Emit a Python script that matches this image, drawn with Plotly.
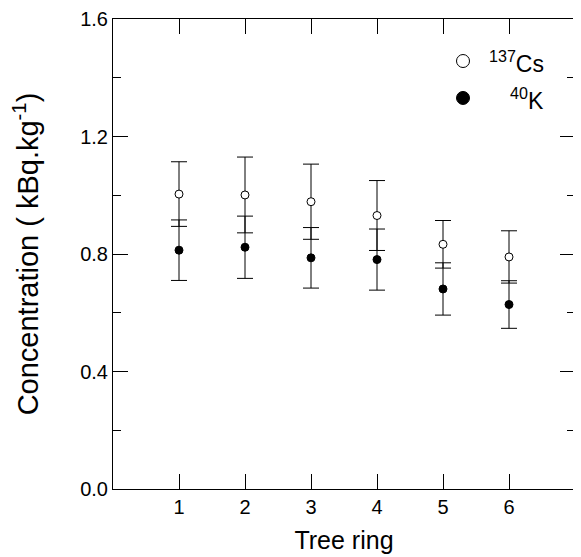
import plotly.graph_objects as go

rings = [1, 2, 3, 4, 5, 6]
cs_vals = [1.004, 1.001, 0.978, 0.931, 0.833, 0.790]
cs_err = [0.110, 0.129, 0.128, 0.119, 0.081, 0.089]
k_vals = [0.813, 0.823, 0.787, 0.781, 0.681, 0.628]
k_err = [0.103, 0.106, 0.103, 0.104, 0.089, 0.081]
y_ticks = [0.0, 0.4, 0.8, 1.2, 1.6]
x_ticks = [1, 2, 3, 4, 5, 6]

FONT = "Liberation Sans, Arial, sans-serif"

fig = go.Figure()
fig.add_trace(go.Scatter(
    x=rings, y=k_vals, mode="markers", name="40K",
    marker=dict(symbol="circle", size=8, color="black", line=dict(color="black", width=1)),
    error_y=dict(type="data", array=k_err, visible=True, color="black", thickness=1, width=8),
))
fig.add_trace(go.Scatter(
    x=rings, y=cs_vals, mode="markers", name="137Cs",
    marker=dict(symbol="circle", size=8, color="white", line=dict(color="black", width=1)),
    error_y=dict(type="data", array=cs_err, visible=True, color="black", thickness=1, width=8),
))

# legend keys
def circ(xc, yc, fill):
    rx, ry = 6.5 / 462, 6.5 / 470
    fig.add_shape(type="circle", xref="paper", yref="paper",
                  x0=xc - rx, x1=xc + rx, y0=yc - ry, y1=yc + ry,
                  fillcolor=fill, line=dict(color="black", width=1))

circ(0.7576, 0.9106, "white")
circ(0.7576, 0.832, "black")
fig.add_annotation(xref="paper", yref="paper", x=0.937, y=0.908, xanchor="right", yanchor="middle",
                   text="<sup>137</sup>Cs", showarrow=False, font=dict(family=FONT, size=23, color="black"))
fig.add_annotation(xref="paper", yref="paper", x=0.937, y=0.830, xanchor="right", yanchor="middle",
                   text="<sup>40</sup>K", showarrow=False, font=dict(family=FONT, size=23, color="black"))

axis_common = dict(showline=True, linecolor="black", linewidth=1, mirror="ticks",
                   ticks="inside", tickcolor="black", tickwidth=1, ticklen=15,
                   showgrid=False, zeroline=False, automargin=False,
                   tickfont=dict(family=FONT, size=20, color="black"))

fig.update_xaxes(range=[0, 7], tickvals=x_ticks,
                 title=dict(text="Tree ring", font=dict(family=FONT, size=25, color="black"), standoff=14),
                 **axis_common)
fig.update_yaxes(range=[0, 1.6], tickvals=y_ticks, tickformat=".1f",
                 minor=dict(dtick=0.2, tick0=0, ticks="inside", ticklen=8, tickcolor="black", tickwidth=1, showgrid=False),
                 title=dict(text="Concentration ( kBq.kg<sup>-1</sup>)", font=dict(family=FONT, size=29, color="black"), standoff=34),
                 **axis_common)

fig.update_layout(width=573, height=549, margin=dict(l=105, r=6, t=11, b=68),
                  paper_bgcolor="white", plot_bgcolor="white", showlegend=False)

fig.write_html("out.html")
